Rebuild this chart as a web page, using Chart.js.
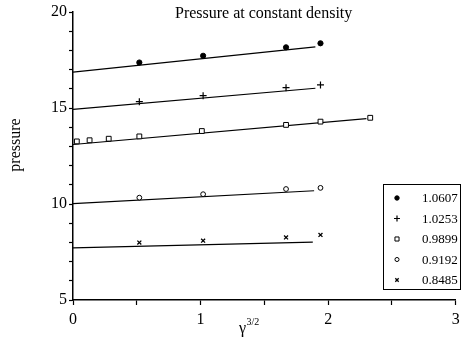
<!DOCTYPE html>
<html>
<head>
<meta charset="utf-8">
<script src="https://cdn.jsdelivr.net/npm/chart.js@4.4.1/dist/chart.umd.min.js"></script>
<style>
  html, body { margin: 0; padding: 0; background: #fff; }
  #wrap { width: 461px; height: 346px; }
</style>
</head>
<body>
<div id="wrap"><canvas id="c" width="461" height="346"></canvas></div>
<script>
// ---- data ----
const densities = ['1.0607', '1.0253', '0.9899', '0.9192', '0.8485'];
const xMain = [0.52, 1.02, 1.67, 1.94];
const xSquares = [0.03, 0.13, 0.28, 0.52, 1.01, 1.67, 1.94, 2.33];
const p10607 = [17.37, 17.72, 18.16, 18.37];
const p10253 = [15.33, 15.64, 16.06, 16.20];
const p09899 = [13.26, 13.32, 13.40, 13.52, 13.80, 14.12, 14.29, 14.49];
const p09192 = [10.33, 10.51, 10.78, 10.84];
const p08485 = [7.99, 8.09, 8.26, 8.39];
// straight-line fits: value at x=0 and at the end x
const fitStartY = [16.87, 14.93, 13.10, 10.02, 7.71];
const fitEndX = [1.90, 1.90, 2.30, 1.89, 1.88];
const fitEndY = [18.18, 16.03, 14.45, 10.69, 8.01];
const xTickLabels = [0, 1, 2, 3];
const yTickLabels = [5, 10, 15, 20];
const titleText = 'Pressure at constant density';
const yTitle = 'pressure';
const xTitleBase = 'γ';
const xTitleSup = '3/2';

const SERIF = '"Liberation Serif", "Times New Roman", serif';

const seriesY = [p10607, p10253, p09899, p09192, p08485];
const seriesX = [xMain, xMain, xSquares, xMain, xMain];
const styles = [
  { pointStyle: 'circle', radius: 2.6, fill: '#000', bw: 1 },
  { pointStyle: 'cross', radius: 3.5, fill: '#000', bw: 1.2 },
  { pointStyle: 'rect', radius: 3.4, fill: '#fff', bw: 1 },
  { pointStyle: 'circle', radius: 2.4, fill: '#fff', bw: 1 },
  { pointStyle: 'crossRot', radius: 2.8, fill: '#000', bw: 1.3 }
];

const datasets = [];
densities.forEach((d, i) => {
  datasets.push({
    label: d,
    data: seriesX[i].map((x, k) => ({ x: x, y: seriesY[i][k] })),
    showLine: false,
    pointStyle: styles[i].pointStyle,
    pointRadius: styles[i].radius,
    pointBackgroundColor: styles[i].fill,
    pointBorderColor: '#000',
    pointBorderWidth: styles[i].bw,
    order: 1
  });
});
densities.forEach((d, i) => {
  datasets.push({
    label: 'fit ' + d,
    data: [{ x: 0, y: fitStartY[i] }, { x: fitEndX[i], y: fitEndY[i] }],
    showLine: true,
    borderColor: '#000',
    borderWidth: 1.2,
    pointRadius: 0,
    fill: false,
    order: 2
  });
});

const textPlugin = {
  id: 'texts',
  afterDraw(chart) {
    const ctx = chart.ctx;
    ctx.save();
    ctx.fillStyle = '#000';
    // title inside plot
    ctx.font = '16px ' + SERIF;
    ctx.textAlign = 'left';
    ctx.textBaseline = 'alphabetic';
    ctx.fillText(titleText, 175, 18);
    // y title
    ctx.save();
    ctx.translate(20, 145);
    ctx.rotate(-Math.PI / 2);
    ctx.textAlign = 'center';
    ctx.font = '16px ' + SERIF;
    ctx.fillText(yTitle, 0, 0);
    ctx.restore();
    // x title with superscript
    ctx.font = '16px ' + SERIF;
    ctx.textAlign = 'left';
    ctx.fillText(xTitleBase, 239, 333);
    const w = ctx.measureText(xTitleBase).width;
    ctx.font = '10px ' + SERIF;
    ctx.fillText(xTitleSup, 239 + w + 0.5, 325);
    // legend box
    const lx = 383, ly = 184, lw = 77, lh = 105;
    ctx.fillStyle = '#fff';
    ctx.fillRect(lx, ly, lw, lh);
    ctx.strokeStyle = '#000';
    ctx.lineWidth = 1;
    ctx.strokeRect(lx + 0.5, ly + 0.5, lw, lh);
    ctx.font = '13px ' + SERIF;
    ctx.textBaseline = 'middle';
    densities.forEach((d, i) => {
      const cy = 198 + i * 20.5;
      ctx.fillStyle = styles[i].fill;
      ctx.strokeStyle = '#000';
      ctx.lineWidth = styles[i].bw;
      Chart.helpers.drawPoint(ctx, { pointStyle: styles[i].pointStyle, radius: styles[i].radius * 0.85, rotation: 0, borderWidth: styles[i].bw }, 397, cy);
      ctx.fillStyle = '#000';
      ctx.fillText(d, 422, cy + 1);
    });
    ctx.restore();
  }
};

new Chart(document.getElementById('c'), {
  type: 'scatter',
  data: { datasets },
  options: {
    responsive: false,
    animation: false,
    devicePixelRatio: 1,
    layout: { padding: { left: 0, right: 2, top: 12, bottom: 0 } },
    plugins: { legend: { display: false }, tooltip: { enabled: false }, title: { display: false } },
    scales: {
      x: {
        type: 'linear', min: 0, max: 3,
        ticks: {
          stepSize: 0.5, autoSkip: false, maxRotation: 0, padding: 5,
          color: '#000', font: { family: SERIF, size: 16 },
          callback: v => (xTickLabels.includes(v) ? String(v) : '')
        },
        grid: { drawOnChartArea: false, drawTicks: true, tickLength: 5, color: '#000', tickWidth: 1.2 },
        border: { display: true, color: '#000', width: 1.5 },
        afterFit(s) { s.height = 46; s.paddingLeft = 0; s.paddingRight = 0; }
      },
      y: {
        type: 'linear', min: 5, max: 20,
        ticks: {
          stepSize: 1, autoSkip: false, padding: 2,
          color: '#000', font: { family: SERIF, size: 16 },
          callback: v => (yTickLabels.includes(v) ? String(v) : '')
        },
        grid: { drawOnChartArea: false, drawTicks: true, tickLength: 4, color: '#000', tickWidth: 1.2 },
        border: { display: true, color: '#000', width: 1.5 },
        afterFit(s) { s.width = 73; s.paddingTop = 0; s.paddingBottom = 0; }
      }
    }
  },
  plugins: [textPlugin]
});
</script>
</body>
</html>
